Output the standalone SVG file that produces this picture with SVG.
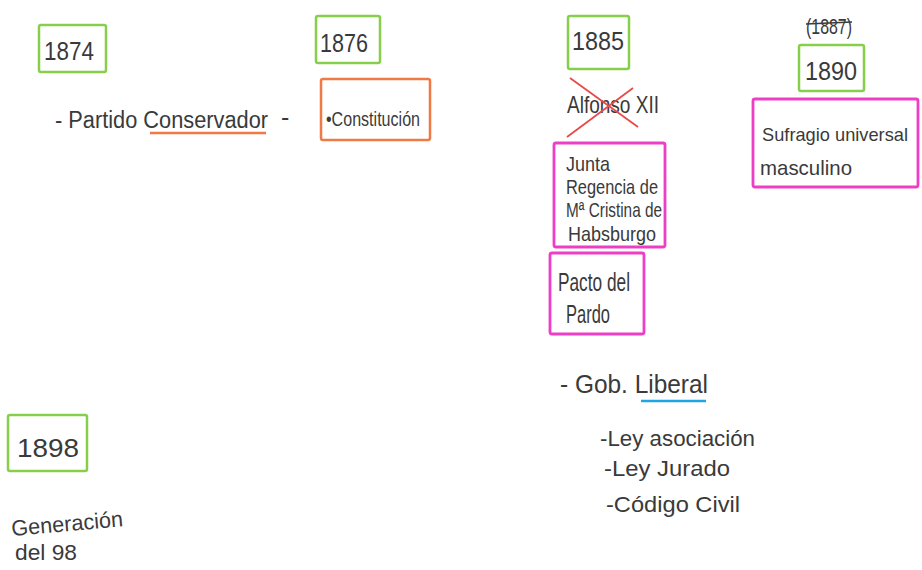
<svg xmlns="http://www.w3.org/2000/svg" width="922" height="570" viewBox="0 0 922 570">
<style>
text{font-family:"Liberation Sans","DejaVu Sans",sans-serif;fill:#3a3a3a;}
.yr{font-size:26px;}
.g{fill:none;stroke:#86cf4a;stroke-width:2.5;}
.o{fill:none;stroke:#ef7a45;stroke-width:2.5;}
.m{fill:none;stroke:#ec3fc6;stroke-width:2.8;}
</style>
<rect width="922" height="570" fill="#ffffff"/>
<g id="y1874"><rect class="g" x="39" y="25" width="67" height="47" rx="2"/><text class="yr" x="44" y="60" textLength="50" lengthAdjust="spacingAndGlyphs">1874</text></g>
<g id="partido"><text style="font-size:22px" transform="translate(55 128) scale(1 1.12)" x="0" y="0" textLength="213" lengthAdjust="spacingAndGlyphs">- Partido Conservador</text><line x1="150" y1="133" x2="266" y2="133" stroke="#ef7a45" stroke-width="2.5"/><text style="font-size:25px" x="281" y="126">-</text></g>
<g id="y1876"><rect class="g" x="316" y="16" width="64" height="47" rx="2"/><text class="yr" x="320" y="52" textLength="48" lengthAdjust="spacingAndGlyphs">1876</text></g>
<g id="constitucion"><rect class="o" x="321" y="79" width="109" height="61" rx="2"/><text style="font-size:20px" x="326" y="126" textLength="94" lengthAdjust="spacingAndGlyphs">•Constitución</text></g>
<g id="y1885"><rect class="g" x="568" y="16" width="61" height="53" rx="2"/><text class="yr" x="572" y="50" textLength="52" lengthAdjust="spacingAndGlyphs">1885</text></g>
<g id="alfonso"><text style="font-size:24px" x="567" y="113" textLength="92" lengthAdjust="spacingAndGlyphs">Alfonso XII</text><line x1="570" y1="78" x2="638" y2="127" stroke="#e84a4a" stroke-width="1.8"/><line x1="567" y1="137" x2="633" y2="88" stroke="#e84a4a" stroke-width="1.8"/></g>
<g id="junta"><rect class="m" x="554" y="143" width="111" height="104" rx="2"/><text style="font-size:21px" x="566" y="171" textLength="44" lengthAdjust="spacingAndGlyphs">Junta</text><text style="font-size:21px" x="566" y="194" textLength="92" lengthAdjust="spacingAndGlyphs">Regencia de</text><text style="font-size:21px" x="566" y="217" textLength="96" lengthAdjust="spacingAndGlyphs">Mª Cristina de</text><text style="font-size:21px" x="568" y="241" textLength="88" lengthAdjust="spacingAndGlyphs">Habsburgo</text></g>
<g id="pacto"><rect class="m" x="550" y="253" width="94" height="81" rx="2"/><text style="font-size:25px" x="558" y="291" textLength="72" lengthAdjust="spacingAndGlyphs">Pacto del</text><text style="font-size:25px" x="566" y="323" textLength="44" lengthAdjust="spacingAndGlyphs">Pardo</text></g>
<g id="y1887"><text style="font-size:22px" x="806" y="34" textLength="46" lengthAdjust="spacingAndGlyphs">(1887)</text><line x1="806" y1="24" x2="852" y2="22" stroke="#3a3a3a" stroke-width="1.6"/></g>
<g id="y1890"><rect class="g" x="799" y="45" width="65" height="46" rx="2"/><text class="yr" x="805" y="80" textLength="52" lengthAdjust="spacingAndGlyphs">1890</text></g>
<g id="sufragio"><rect class="m" x="753" y="99" width="165" height="88" rx="2"/><text style="font-size:19px" x="762" y="141" textLength="146" lengthAdjust="spacingAndGlyphs">Sufragio universal</text><text style="font-size:21px" x="760" y="175" textLength="92" lengthAdjust="spacingAndGlyphs">masculino</text></g>
<g id="gob"><text style="font-size:25px" x="560" y="393" textLength="148" lengthAdjust="spacingAndGlyphs">- Gob. Liberal</text><line x1="641" y1="401" x2="706" y2="401" stroke="#1fa4e6" stroke-width="2.5"/></g>
<g id="ley1"><text style="font-size:22px" x="600" y="446" textLength="155" lengthAdjust="spacingAndGlyphs">-Ley asociación</text></g>
<g id="ley2"><text style="font-size:22px" x="604" y="476" textLength="126" lengthAdjust="spacingAndGlyphs">-Ley Jurado</text></g>
<g id="codigo"><text style="font-size:22px" x="606" y="512" textLength="134" lengthAdjust="spacingAndGlyphs">-Código Civil</text></g>
<g id="y1898"><rect class="g" x="8" y="415" width="79" height="56" rx="2"/><text class="yr" x="17" y="457" textLength="62" lengthAdjust="spacingAndGlyphs">1898</text></g>
<g id="generacion"><text style="font-size:22px" x="12" y="536" textLength="112" lengthAdjust="spacingAndGlyphs" transform="rotate(-5 12 536)">Generación</text><text style="font-size:22px" x="15" y="560" textLength="62" lengthAdjust="spacingAndGlyphs">del 98</text></g>
<g id="connectors"/>
</svg>
